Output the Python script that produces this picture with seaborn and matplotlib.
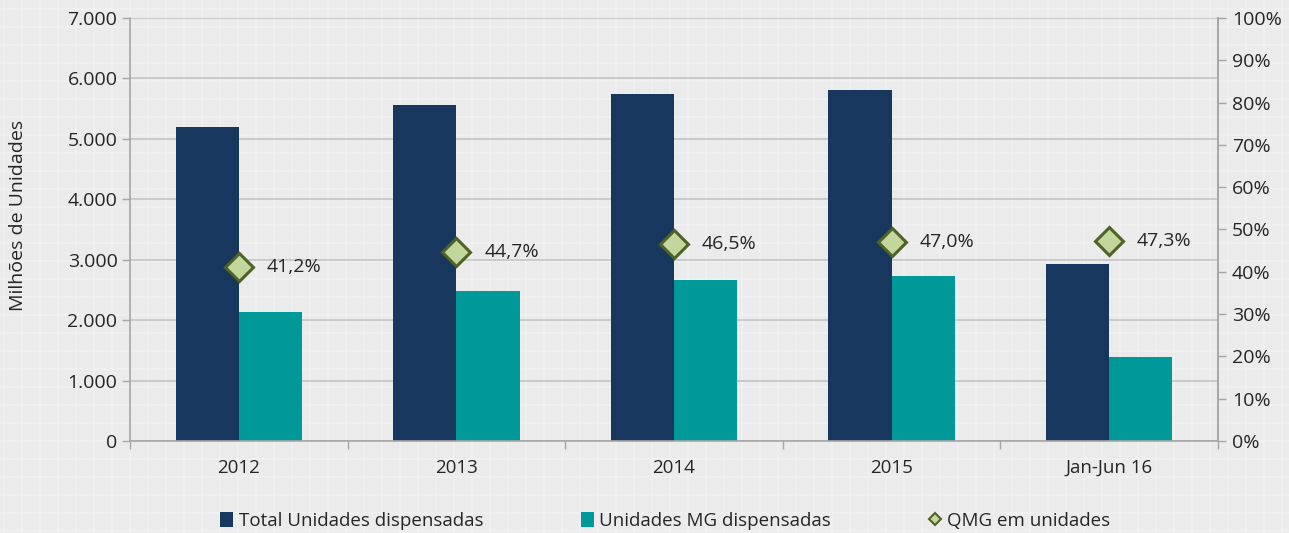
import numpy as np
import pandas as pd
import matplotlib
matplotlib.use("Agg")
import matplotlib.pyplot as plt
import seaborn as sns
from matplotlib.patches import Patch
from matplotlib.lines import Line2D
from matplotlib.ticker import FuncFormatter, FixedLocator

categories = ["2012", "2013", "2014", "2015", "Jan-Jun 16"]
total_units = [5200, 5560, 5745, 5810, 2930]
mg_units = [2140, 2485, 2672, 2731, 1386]
qmg_pct = [41.2, 44.7, 46.5, 47.0, 47.3]
series_names = ["Total Unidades dispensadas", "Unidades MG dispensadas"]
line_name = "QMG em unidades"
pct_labels = ["41,2%", "44,7%", "46,5%", "47,0%", "47,3%"]

sns.set_theme(style="white")
plt.rcParams["font.family"] = ["Open Sans", "DejaVu Sans"]

navy = "#17375E"
teal = "#009999"
dfill = "#C3D69B"
dedge = "#4F6228"
txt = "#262626"
axc = "#A6A6A6"
bgc = "#EBEBEB"

W, H = 1289, 533
fig = plt.figure(figsize=(W / 100, H / 100), dpi=100)
fig.patch.set_facecolor(bgc)

# graph-paper background
bg = fig.add_axes([0, 0, 1, 1], zorder=-10)
bg.set_xlim(0, W)
bg.set_ylim(0, H)
bg.set_facecolor(bgc)
bg.set_xticks(np.arange(4, W, 18))
bg.set_yticks(np.arange(2, H, 18))
bg.grid(True, color="#F1F1F1", lw=1.1)
bg.tick_params(left=False, bottom=False, labelleft=False, labelbottom=False)
for s in bg.spines.values():
    s.set_visible(False)

ax = fig.add_axes([130 / W, 1 - 441 / H, (1218 - 130) / W, (441 - 18) / H])
ax.patch.set_alpha(0)

df = pd.DataFrame({
    "cat": categories * 2,
    "serie": [series_names[0]] * len(categories) + [series_names[1]] * len(categories),
    "val": total_units + mg_units,
})
sns.barplot(data=df, x="cat", y="val", hue="serie", palette=[navy, teal],
            width=0.58, gap=0, ax=ax, legend=False, saturation=1, linewidth=0)

ax.set_ylim(0, 7000)
ax.set_xlim(-0.5, len(categories) - 0.5)
ax.set_yticks(np.arange(0, 7001, 1000))
ax.yaxis.set_major_formatter(FuncFormatter(lambda v, p: f"{int(v):,}".replace(",", ".")))
ax.grid(axis="y", color="#C4C4C4", lw=1.2)
ax.set_axisbelow(True)
ax.set_xlabel("")
ax.set_ylabel("Milhões de Unidades", fontsize=14, color=txt)
ax.yaxis.set_label_coords(-0.0947, 0.534)
ax.tick_params(axis="y", left=True, length=6, width=1, color=axc, labelsize=14,
               labelcolor=txt, pad=3)
ax.tick_params(axis="x", which="major", bottom=False, labelsize=13.5, labelcolor=txt, pad=7)
ax.xaxis.set_minor_locator(FixedLocator(np.arange(-0.5, len(categories), 1.0)))
ax.tick_params(axis="x", which="minor", bottom=True, length=6, width=1, color=axc)
ax.spines["top"].set_visible(False)
for k in ["left", "right", "bottom"]:
    ax.spines[k].set_color(axc)
    ax.spines[k].set_linewidth(1.2)

ax2 = ax.twinx()
ax2.set_ylim(0, 100)
ax2.set_yticks(np.arange(0, 101, 10))
ax2.yaxis.set_major_formatter(FuncFormatter(lambda v, p: f"{int(v)}%"))
ax2.tick_params(axis="y", right=True, length=6, width=1, color=axc, labelsize=14,
                labelcolor=txt, pad=4)
ax2.grid(False)
for k in ["top", "left", "bottom"]:
    ax2.spines[k].set_visible(False)
ax2.spines["right"].set_color(axc)
ax2.spines["right"].set_linewidth(1.2)

xpos = np.arange(len(categories))
ax2.plot(xpos, qmg_pct, linestyle="none", marker="D", markersize=14,
         markerfacecolor=dfill, markeredgecolor=dedge, markeredgewidth=2.2, zorder=5)
for x, y, lab in zip(xpos, qmg_pct, pct_labels):
    ax2.annotate(lab, (x, y), xytext=(20, 0), textcoords="offset points",
                 va="center", ha="left", fontsize=14, color=txt)

handles = [
    Patch(facecolor=navy, edgecolor="none", label=series_names[0]),
    Patch(facecolor=teal, edgecolor="none", label=series_names[1]),
    Line2D([], [], linestyle="none", marker="D", markersize=6, markerfacecolor=dfill,
           markeredgecolor=dedge, markeredgewidth=1.5, label=line_name),
]
fig.legend(handles=handles, loc="center", bbox_to_anchor=(0.516, 1 - 521 / H), ncol=3,
           frameon=False, fontsize=13.5, handlelength=0.7, handleheight=0.9,
           handletextpad=0.3, columnspacing=5.2, labelcolor=txt)

fig.savefig("out.png", dpi=100, facecolor=bgc)
